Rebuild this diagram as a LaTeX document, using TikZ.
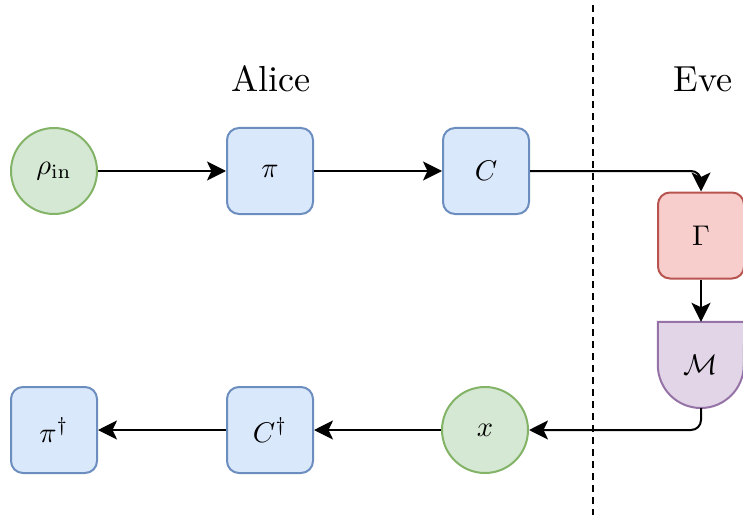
\documentclass[tikz,border=0pt]{standalone}
\usepackage{amsmath}
\usepackage{graphicx}
\usetikzlibrary{arrows.meta,backgrounds}
\definecolor{gfill}{HTML}{D5E8D4}\definecolor{gline}{HTML}{82B366}
\definecolor{bfill}{HTML}{DAE8FC}\definecolor{bline}{HTML}{6C8EBF}
\definecolor{rfill}{HTML}{F8CECC}\definecolor{rline}{HTML}{B85450}
\definecolor{pfill}{HTML}{E1D5E7}\definecolor{pline}{HTML}{9673A6}
\newcommand{\mth}[1]{\scalebox{2.85}{$#1$}}
\newcommand{\ttl}[1]{\scalebox{3.62}{#1}}
\tikzset{
  circnode/.style={circle, draw=gline, fill=gfill, line width=2pt, minimum size=86pt, inner sep=0pt},
  bluebox/.style={rectangle, rounded corners=12pt, draw=bline, fill=bfill, line width=2pt, minimum size=86pt, inner sep=0pt},
  redbox/.style={rectangle, rounded corners=12pt, draw=rline, fill=rfill, line width=2pt, minimum size=86pt, inner sep=0pt},
  measnode/.style={rectangle, minimum size=86pt, inner sep=0pt},
  measshape/.style={draw=pline, fill=pfill, line width=2pt},
  conn/.style={draw=black, line width=2pt, -{Stealth[length=19pt, width=19pt, inset=4.5pt]}},
  title/.style={anchor=base, inner sep=0pt},
  divider/.style={draw=black, line width=2pt, dash pattern=on 7pt off 5pt}
}
\begin{document}
\begin{tikzpicture}[x=1pt,y=1pt]
\useasboundingbox (0,0) rectangle (743,515);
\clip (0,0) rectangle (743,515);
\node[title] (alice) at (271,423) {\ttl{Alice}};
\node[title] (eve) at (703,423) {\ttl{Eve}};
\coordinate (dtop) at (593,510);
\coordinate (dbot) at (593,0);
\draw[divider] (dtop) -- (dbot);
\node[circnode] (rho) at (54,344) {\mth{\rho_{\mathrm{in}}}};
\node[bluebox] (pi) at (270,344) {\mth{\pi}};
\node[bluebox] (C) at (486,344) {\mth{C}};
\node[redbox] (G) at (701,279.5) {\mth{\Gamma}};
\node[measnode] (M) at (701,150) {\mth{\mathcal{M}}};
\begin{scope}[on background layer]
\draw[measshape] (M.north west) -- (M.west) arc[start angle=180, end angle=360, radius=43pt] -- (M.north east) -- cycle;
\end{scope}
\node[circnode] (x) at (485,85) {\mth{x}};
\node[bluebox] (Cd) at (270,85) {\mth{C^{\dagger}}};
\node[bluebox] (pid) at (54,85) {\mth{\pi^{\dagger}}};
\draw[conn] (rho) -- (pi);
\draw[conn] (pi) -- (C);
\draw[conn, rounded corners=10pt] (C.east) -| (G.north);
\draw[conn] (G.south) -- (M.north);
\draw[conn, rounded corners=10pt] (M.south) |- (x.east);
\draw[conn] (x) -- (Cd);
\draw[conn] (Cd) -- (pid);
\end{tikzpicture}
\end{document}
